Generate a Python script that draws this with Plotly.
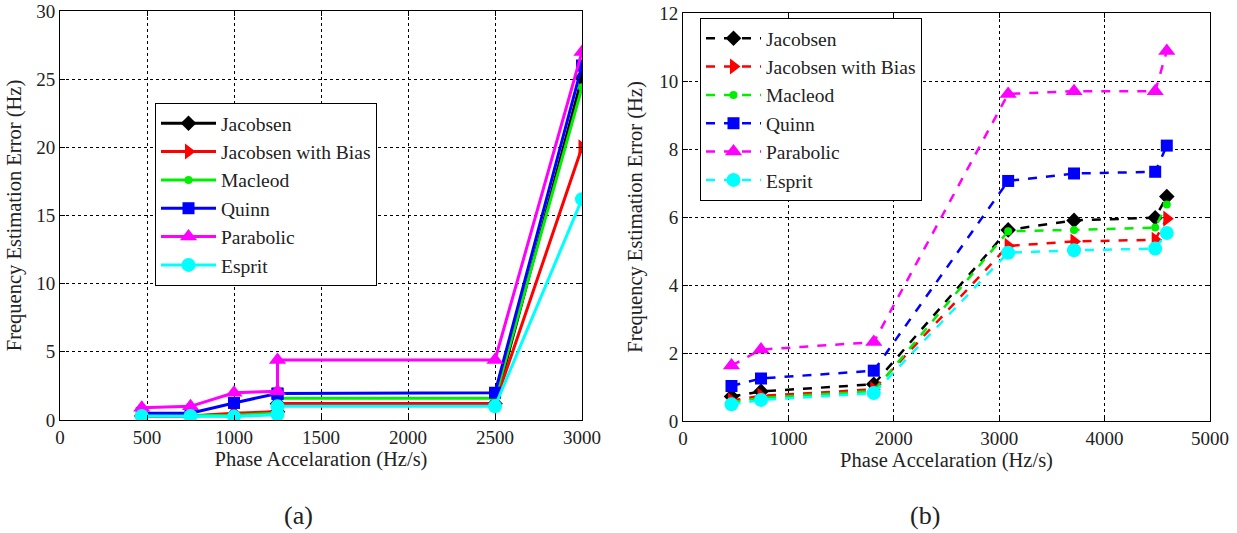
import plotly.graph_objects as go

names = ["Jacobsen", "Jacobsen with Bias", "Macleod", "Quinn", "Parabolic", "Esprit"]
colors = ["#000000", "#ff0000", "#00ee00", "#0000ff", "#ff00ff", "#00ffff"]
symbols = ["diamond", "triangle-right", "circle", "square", "triangle-up", "circle"]
msizes = [12, 14, 8, 12, 15, 14]

# Panel (a)
x_a = [470, 750, 1000, 1250, 1250, 2500, 3000]
a_jacobsen = [0.3, 0.3, 0.4, 0.6, 1.2, 1.2, 25.1]
a_bias = [0.3, 0.3, 0.5, 0.6, 1.2, 1.2, 20.0]
a_macleod = [0.3, 0.3, 0.35, 0.5, 1.6, 1.6, 24.4]
a_quinn = [0.5, 0.5, 1.25, 1.9, 1.95, 2.0, 26.0]
a_parabolic = [0.9, 1.0, 2.0, 2.1, 4.4, 4.4, 27.0]
a_esprit = [0.3, 0.3, 0.25, 0.4, 1.0, 1.0, 16.2]

# Panel (b)
x_b = [460, 740, 1810, 3085, 3710, 4480, 4590]
b_jacobsen = [0.72, 0.87, 1.08, 5.62, 5.9, 5.98, 6.6]
b_bias = [0.6, 0.74, 0.93, 5.15, 5.28, 5.33, 5.95]
b_macleod = [0.55, 0.68, 0.88, 5.58, 5.62, 5.69, 6.37]
b_quinn = [1.03, 1.25, 1.48, 7.06, 7.28, 7.33, 8.1]
b_parabolic = [1.63, 2.1, 2.32, 9.62, 9.7, 9.7, 10.88]
b_esprit = [0.49, 0.62, 0.82, 4.95, 5.02, 5.07, 5.53]

series_a = [a_jacobsen, a_bias, a_macleod, a_quinn, a_parabolic, a_esprit]
series_b = [b_jacobsen, b_bias, b_macleod, b_quinn, b_parabolic, b_esprit]

fig = go.Figure()
for i, ys in enumerate(series_a):
    fig.add_trace(go.Scatter(
        x=x_a, y=ys, name=names[i], mode="lines+markers",
        line=dict(color=colors[i], width=3),
        marker=dict(symbol=symbols[i], size=msizes[i], color=colors[i]),
        xaxis="x", yaxis="y", legend="legend"))
for i, ys in enumerate(series_b):
    fig.add_trace(go.Scatter(
        x=x_b, y=ys, name=names[i], mode="lines+markers",
        line=dict(color=colors[i], width=2.5, dash="dash"),
        marker=dict(symbol=symbols[i], size=msizes[i], color=colors[i]),
        xaxis="x2", yaxis="y2", legend="legend2"))

W, H = 1237, 533
serif = "Liberation Serif, Times New Roman, serif"
axis_common = dict(
    showline=True, linecolor="black", linewidth=1, mirror="ticks",
    ticks="inside", ticklen=5, tickcolor="black",
    showgrid=True, gridcolor="black", griddash="dot", gridwidth=1,
    zeroline=False, automargin=False, ticklabeloverflow="allow",
    tickfont=dict(family=serif, size=19, color="#222"),
)
title_font = dict(family=serif, size=20.5, color="#222")

fig.update_layout(
    width=W, height=H, paper_bgcolor="white", plot_bgcolor="white",
    margin=dict(l=0, r=0, t=0, b=0, pad=0, autoexpand=False),
    xaxis=dict(domain=[60 / W, 582 / W], range=[0, 3000], dtick=500,
               title=dict(text="Phase Accelaration (Hz/s)", font=title_font, standoff=0),
               anchor="y", **axis_common),
    yaxis=dict(domain=[1 - 420 / H, 1 - 11 / H], range=[0, 30], dtick=5,
               title=dict(text="Frequency Estimation Error (Hz)", font=title_font, standoff=9),
               anchor="x", **axis_common),
    xaxis2=dict(domain=[683 / W, 1210 / W], range=[0, 5000], dtick=1000,
                title=dict(text="Phase Accelaration (Hz/s)", font=title_font, standoff=0),
                anchor="y2", **axis_common),
    yaxis2=dict(domain=[1 - 421 / H, 1 - 13 / H], range=[0, 12], dtick=2,
                title=dict(text="Frequency Estimation Error (Hz)", font=title_font, standoff=11),
                anchor="x2", **axis_common),
    legend=dict(x=155 / W, y=1 - 103 / H, xanchor="left", yanchor="top",
                bordercolor="black", borderwidth=1, bgcolor="white",
                font=dict(family=serif, size=19.5, color="#222"), itemwidth=55),
    legend2=dict(x=700 / W, y=1 - 18 / H, xanchor="left", yanchor="top",
                 bordercolor="black", borderwidth=1, bgcolor="white",
                 font=dict(family=serif, size=19.5, color="#222"), itemwidth=55),
    annotations=[
        dict(text="(a)", x=298 / W, y=1 - 515 / H, xref="paper", yref="paper",
             xanchor="center", yanchor="middle",
             showarrow=False, font=dict(family=serif, size=26, color="#222")),
        dict(text="(b)", x=925 / W, y=1 - 515 / H, xref="paper", yref="paper",
             xanchor="center", yanchor="middle",
             showarrow=False, font=dict(family=serif, size=26, color="#222")),
    ],
)

fig.write_html("out.html", config={"displayModeBar": False},
               post_script="document.body.style.margin='0';document.body.style.overflow='hidden';")
